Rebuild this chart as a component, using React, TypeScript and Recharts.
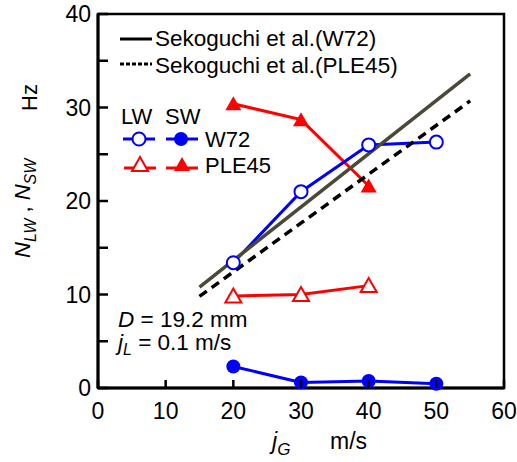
import { ComposedChart, Line, XAxis, YAxis, ReferenceArea } from "recharts";

const FONT = '"Liberation Sans", Arial, sans-serif';

// gas superficial velocity j_G (m/s)
const jG = [20, 30, 40, 50];
const jGPle = [20, 30, 40];

// wave frequencies (Hz)
const lwW72 = [13.4, 21.0, 26.0, 26.3];
const swW72 = [2.3, 0.6, 0.75, 0.45];
const lwPLE45 = [9.85, 10.0, 10.95];
const swPLE45 = [30.4, 28.7, 21.6];

// Sekoguchi et al. correlation, drawn between end points
const sekoX = [15, 55];
const sekoW72 = [10.8, 33.6];
const sekoPLE45 = [9.8, 30.7];

const xTicks = [0, 10, 20, 30, 40, 50, 60];
const yTicks = [0, 5, 10, 15, 20, 25, 30, 35, 40];

const toRows = (xs: number[], ys: number[]) => xs.map((x, i) => ({ x, y: ys[i] }));

const BLUE = "#0000ff";
const RED = "#ff0000";
const OLIVE = "#4b4838";

const OpenCircle = (p: any) =>
  p.cx == null ? null : (
    <circle key={p.index} cx={p.cx} cy={p.cy} r={6.5} fill="#fff" stroke={BLUE} strokeWidth={2} />
  );
const FilledCircle = (p: any) =>
  p.cx == null ? null : <circle key={p.index} cx={p.cx} cy={p.cy} r={7} fill={BLUE} stroke="none" />;

const triPath = (cx: number, cy: number) =>
  `M${cx},${cy - 7.5} L${cx + 8},${cy + 6.5} L${cx - 8},${cy + 6.5} Z`;

const OpenTri = (p: any) =>
  p.cx == null ? null : (
    <path key={p.index} d={triPath(p.cx, p.cy)} fill="#fff" stroke={RED} strokeWidth={2} />
  );
const FilledTri = (p: any) =>
  p.cx == null ? null : <path key={p.index} d={triPath(p.cx, p.cy)} fill={RED} stroke="none" />;

const XTick = (props: any) => {
  const { x, y, payload } = props;
  return (
    <g>
      <line x1={x} x2={x} y1={y} y2={y - 8} stroke="#000" strokeWidth={2.5} />
      <text x={x} y={y + 31} textAnchor="middle" fontSize={23} fontFamily={FONT} fill="#000">
        {payload.value}
      </text>
    </g>
  );
};

const YTick = (props: any) => {
  const { x, y, payload } = props;
  const v = payload.value;
  return (
    <g>
      <line x1={x} x2={x + 10} y1={y} y2={y} stroke="#000" strokeWidth={2.5} />
      {v % 10 === 0 && (
        <text x={x - 7} y={y + 8} textAnchor="end" fontSize={23} fontFamily={FONT} fill="#000">
          {v}
        </text>
      )}
    </g>
  );
};

function Overlay() {
  const t = { fontFamily: FONT, fill: "#000" };
  return (
    <svg
      width={517}
      height={462}
      style={{ position: "absolute", left: 0, top: 0, pointerEvents: "none" }}
    >
      {/* correlation legend */}
      <line x1={120} x2={152} y1={39} y2={39} stroke="#000" strokeWidth={3} />
      <text x={155} y={46} fontSize={22.5} {...t}>Sekoguchi et al.(W72)</text>
      <line x1={120} x2={152} y1={64} y2={64} stroke="#000" strokeWidth={3} strokeDasharray="4 2" />
      <text x={155} y={73} fontSize={22.5} {...t}>Sekoguchi et al.(PLE45)</text>

      {/* data legend */}
      <text x={121} y={124} fontSize={22} {...t}>LW</text>
      <text x={165} y={124} fontSize={22} {...t}>SW</text>
      <line x1={123} x2={155} y1={139} y2={139} stroke={BLUE} strokeWidth={3} />
      <circle cx={139} cy={139} r={6.5} fill="#fff" stroke={BLUE} strokeWidth={2} />
      <line x1={166} x2={198} y1={139} y2={139} stroke={BLUE} strokeWidth={3} />
      <circle cx={181} cy={139} r={7} fill={BLUE} />
      <text x={205} y={147} fontSize={22} {...t}>W72</text>
      <line x1={124} x2={156} y1={168} y2={168} stroke={RED} strokeWidth={3} />
      <path d={triPath(140, 164.5)} fill="#fff" stroke={RED} strokeWidth={2} />
      <line x1={166} x2={198} y1={168} y2={168} stroke={RED} strokeWidth={3} />
      <path d={triPath(182, 164.5)} fill={RED} />
      <text x={205} y={173} fontSize={22} {...t}>PLE45</text>

      {/* conditions */}
      <text x={118} y={327} fontSize={22.5} {...t}>
        <tspan fontStyle="italic">D</tspan> = 19.2 mm
      </text>
      <text x={118} y={350} fontSize={22.5} {...t}>
        <tspan fontStyle="italic">j</tspan>
        <tspan fontStyle="italic" fontSize={16} dy={5}>L</tspan>
        <tspan dy={-5}> = 0.1 m/s</tspan>
      </text>

      {/* axis titles */}
      <text x={272} y={449} fontSize={23} {...t}>
        <tspan fontStyle="italic">j</tspan>
        <tspan fontStyle="italic" fontSize={17} dy={6}>G</tspan>
      </text>
      <text x={330} y={449} fontSize={23} {...t}>m/s</text>
      <text transform="translate(30,258) rotate(-90)" fontSize={22} {...t}>
        <tspan fontStyle="italic">N</tspan>
        <tspan fontStyle="italic" fontSize={16} dy={6}>LW</tspan>
        <tspan dy={-6}> , </tspan>
        <tspan fontStyle="italic">N</tspan>
        <tspan fontStyle="italic" fontSize={16} dy={6}>SW</tspan>
      </text>
      <text transform="translate(37,111) rotate(-90)" fontSize={22} {...t}>Hz</text>
    </svg>
  );
}

export default function App() {
  return (
    <div style={{ position: "absolute", left: 0, top: 0, width: 517, height: 462, background: "#fff" }}>
      <ComposedChart width={517} height={462} margin={{ top: 14, right: 13, bottom: 34, left: 0 }}>
        <XAxis
          type="number"
          dataKey="x"
          domain={[0, 60]}
          ticks={xTicks}
          interval={0}
          height={40}
          tickSize={0}
          tickMargin={0}
          tickLine={false}
          tick={<XTick />}
          axisLine={{ stroke: "#000", strokeWidth: 3 }}
        />
        <YAxis
          type="number"
          domain={[0, 40]}
          ticks={yTicks}
          interval={0}
          width={98}
          tickSize={0}
          tickMargin={0}
          tickLine={false}
          tick={<YTick />}
          axisLine={{ stroke: "#000", strokeWidth: 3 }}
        />
        <ReferenceArea x1={0} x2={60} y1={0} y2={40} fill="none" stroke="#000" strokeWidth={2.5} />

        <Line data={toRows(jG, swW72)} dataKey="y" stroke={BLUE} strokeWidth={3} dot={FilledCircle} isAnimationActive={false} />
        <Line data={toRows(jGPle, lwPLE45)} dataKey="y" stroke={RED} strokeWidth={3} dot={OpenTri} isAnimationActive={false} />
        <Line data={toRows(jGPle, swPLE45)} dataKey="y" stroke={RED} strokeWidth={3} dot={FilledTri} isAnimationActive={false} />
        <Line data={toRows(jG, lwW72)} dataKey="y" stroke={BLUE} strokeWidth={3} dot={OpenCircle} isAnimationActive={false} />
        <Line data={toRows(sekoX, sekoW72)} dataKey="y" stroke={OLIVE} strokeWidth={3.5} dot={false} isAnimationActive={false} />
        <Line data={toRows(sekoX, sekoPLE45)} dataKey="y" stroke="#000" strokeWidth={3.5} strokeDasharray="9 6" dot={false} isAnimationActive={false} />
      </ComposedChart>
      <Overlay />
    </div>
  );
}
